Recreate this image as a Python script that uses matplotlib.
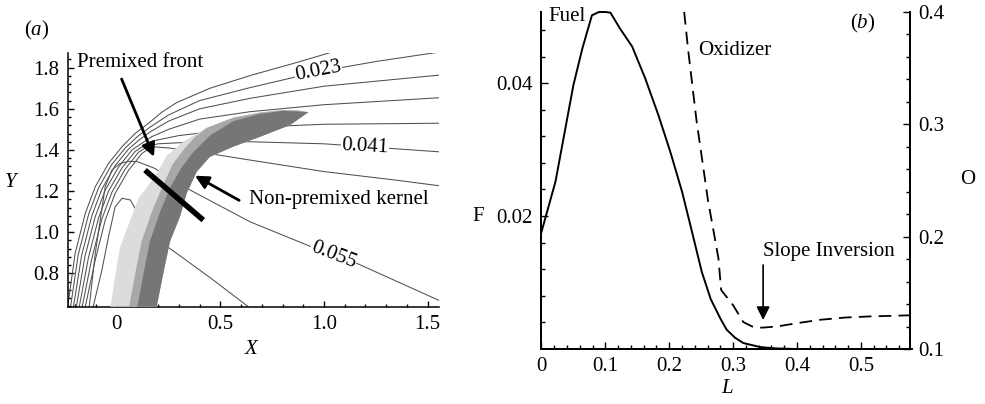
import numpy as np
import matplotlib
matplotlib.use("Agg")
import matplotlib.pyplot as plt
from matplotlib.ticker import MultipleLocator, FixedLocator

plt.rcParams['font.family'] = ['Liberation Serif', 'DejaVu Serif']
plt.rcParams['mathtext.fontset'] = 'custom'
plt.rcParams['mathtext.rm'] = 'Liberation Serif'
plt.rcParams['mathtext.it'] = 'Liberation Serif:italic'
FS = 15

# ---- panel (a): fuel iso-lines (X, Y) ----
iso1_x = [-0.236, -0.2, -0.151, -0.103, -0.039, 0.026, 0.09, 0.154, 0.22, 0.289, 0.45, 0.651, 0.85, 1.029]
iso1_y = [0.638, 0.897, 1.092, 1.221, 1.335, 1.416, 1.481, 1.53, 1.585, 1.63, 1.70, 1.764, 1.82, 1.873]
iso2_x = [-0.222, -0.185, -0.135, -0.087, -0.023, 0.042, 0.10, 0.16, 0.25, 0.40, 0.643, 0.973, 1.25, 1.536]
iso2_y = [0.638, 0.892, 1.087, 1.216, 1.33, 1.41, 1.465, 1.51, 1.57, 1.64, 1.703, 1.781, 1.83, 1.873]
iso3_x = [-0.208, -0.169, -0.119, -0.071, -0.007, 0.058, 0.11, 0.165, 0.25, 0.40, 0.643, 1.0, 1.556]
iso3_y = [0.638, 0.886, 1.081, 1.21, 1.324, 1.405, 1.45, 1.49, 1.54, 1.60, 1.651, 1.71, 1.764]
iso4_x = [-0.194, -0.153, -0.103, -0.055, 0.01, 0.074, 0.125, 0.17, 0.25, 0.40, 0.643, 1.0, 1.556]
iso4_y = [0.638, 0.881, 1.076, 1.205, 1.318, 1.40, 1.435, 1.465, 1.50, 1.55, 1.586, 1.62, 1.654]
iso5_x = [-0.180, -0.136, -0.087, -0.039, 0.026, 0.09, 0.14, 0.18, 0.3, 0.643, 1.0, 1.556]
iso5_y = [0.638, 0.876, 1.07, 1.2, 1.313, 1.394, 1.425, 1.445, 1.47, 1.51, 1.525, 1.53]
iso6_x = [-0.166, -0.12, -0.071, -0.023, 0.042, 0.106, 0.155, 0.2, 0.4, 0.643, 1.0, 1.2, 1.556]
iso6_y = [0.638, 0.87, 1.065, 1.194, 1.308, 1.389, 1.42, 1.43, 1.44, 1.44, 1.43, 1.416, 1.391]
iso7_x = [-0.151, -0.103, -0.055, -0.007, 0.058, 0.122, 0.17, 0.25, 0.4, 0.643, 1.0, 1.35, 1.556]
iso7_y = [0.638, 0.865, 1.059, 1.189, 1.302, 1.383, 1.416, 1.41, 1.39, 1.351, 1.295, 1.253, 1.226]
iso8_x = [-0.132, -0.103, -0.079, -0.055, -0.023, 0.017, 0.06, 0.1, 0.14, 0.185, 0.26, 0.37, 0.643, 0.94, 1.158, 1.556]
iso8_y = [0.638, 0.897, 1.059, 1.221, 1.302, 1.335, 1.345, 1.343, 1.328, 1.31, 1.26, 1.197, 1.051, 0.929, 0.849, 0.668]
iso9_x = [-0.113, -0.071, -0.039, -0.007, 0.026, 0.066, 0.122, 0.193, 0.257, 0.45, 0.635]
iso9_y = [0.638, 0.816, 0.978, 1.124, 1.165, 1.157, 1.059, 0.978, 0.921, 0.78, 0.638]

iso_labels = ['0.023', '0.041', '0.055']
iso_label_x = [0.973, 1.198, 1.045]
iso_label_y = [1.781, 1.416, 0.889]
iso_label_rot = [11, -3, -21]

# reaction zone (shaded band)
band_outer_x = [-0.03, -0.005, 0.017, 0.066, 0.106, 0.154, 0.203, 0.241, 0.321, 0.434, 0.562, 0.691, 0.80, 0.87, 0.925]
band_outer_y = [0.638, 0.80, 0.929, 1.059, 1.165, 1.23, 1.302, 1.37, 1.44, 1.507, 1.557, 1.582, 1.594, 1.593, 1.584]
band_inner_x = [0.925, 0.836, 0.691, 0.562, 0.45, 0.386, 0.338, 0.305, 0.257, 0.225, 0.193]
band_inner_y = [1.584, 1.521, 1.464, 1.416, 1.367, 1.294, 1.19, 1.075, 0.954, 0.80, 0.638]
band_light_x = [0.06, 0.09, 0.12, 0.17, 0.22, 0.27, 0.33, 0.38, 0.434, 0.562, 0.691, 0.80, 0.87, 0.925]
band_light_y = [0.638, 0.80, 0.954, 1.10, 1.22, 1.33, 1.41, 1.465, 1.507, 1.557, 1.582, 1.594, 1.593, 1.584]
band_mid_x = [0.10, 0.13, 0.16, 0.21, 0.26, 0.31, 0.37, 0.45, 0.562, 0.691, 0.80, 0.925]
band_mid_y = [0.638, 0.80, 0.954, 1.10, 1.22, 1.31, 1.39, 1.47, 1.54, 1.575, 1.59, 1.584]

cut_x = [0.137, 0.418]
cut_y = [1.302, 1.059]

# ---- panel (b): profiles along L ----
fuel_L = [0, 0.022, 0.05, 0.064, 0.079, 0.09, 0.1, 0.108, 0.123, 0.142, 0.1625, 0.183, 0.2016,
          0.22, 0.2355, 0.251, 0.265, 0.28, 0.29, 0.303, 0.316, 0.342, 0.365, 0.4, 0.5, 0.58]
fuel_F = [0.0176, 0.0252, 0.0397, 0.0452, 0.0502, 0.0507, 0.0507, 0.0506, 0.0482, 0.0455, 0.0407,
          0.0352, 0.0297, 0.0237, 0.0177, 0.0116, 0.0075, 0.0046, 0.0029, 0.0017, 0.0009, 0.0003,
          0.0001, 0, 0, 0]
ox_L = [0.2234, 0.2297, 0.2426, 0.2606, 0.277, 0.2813, 0.30, 0.316, 0.33, 0.345, 0.368, 0.40, 0.436, 0.475, 0.514, 0.577]
ox_O = [0.40, 0.366, 0.304, 0.2327, 0.181, 0.1525, 0.139, 0.124, 0.12, 0.119, 0.120, 0.123, 0.126, 0.128, 0.129, 0.130]

fig = plt.figure(figsize=(9.85, 4.04), dpi=100)

# ================= panel (a) =================
ax1 = fig.add_axes([0.0687, 0.2408, 0.3773, 0.6288])
iso_lines = [(iso1_x, iso1_y), (iso2_x, iso2_y), (iso3_x, iso3_y), (iso4_x, iso4_y), (iso5_x, iso5_y),
             (iso6_x, iso6_y), (iso7_x, iso7_y), (iso8_x, iso8_y), (iso9_x, iso9_y)]
for xs, ys in iso_lines:
    ax1.plot(xs, ys, color='#505050', lw=0.75, zorder=2)

ax1.fill(band_outer_x + band_inner_x, band_outer_y + band_inner_y, color='#dcdcdc', lw=0, zorder=3)
ax1.fill(band_light_x + band_inner_x, band_light_y + band_inner_y, color='#a8a8a8', lw=0, zorder=3)
ax1.fill(band_mid_x + band_inner_x, band_mid_y + band_inner_y, color='#767676', lw=0, zorder=3)

for lab, x, y, r in zip(iso_labels, iso_label_x, iso_label_y, iso_label_rot):
    ax1.text(x, y, lab, fontsize=FS, rotation=r, ha='center', va='center', zorder=4,
             bbox=dict(facecolor='white', edgecolor='none', pad=0.5))

ax1.plot(cut_x, cut_y, color='black', lw=4, solid_capstyle='butt', zorder=5)

ax1.annotate('', xy=(0.18, 1.367), xytext=(0.024, 1.745), zorder=6,
             arrowprops=dict(arrowstyle='-|>', color='black', lw=2, mutation_scale=20, shrinkA=0, shrinkB=0))
ax1.annotate('', xy=(0.378, 1.275), xytext=(0.591, 1.155), zorder=6,
             arrowprops=dict(arrowstyle='-|>', color='black', lw=2, mutation_scale=20, shrinkA=0, shrinkB=0))
ax1.text(-0.192, 1.823, 'Premixed front', fontsize=FS, ha='left', va='center')
ax1.text(0.638, 1.157, 'Non-premixed kernel', fontsize=FS, ha='left', va='center')

ax1.set_xlim(-0.236, 1.556)
ax1.set_ylim(0.638, 1.873)
ax1.spines['top'].set_visible(False)
ax1.spines['right'].set_visible(False)
for s in ('left', 'bottom'):
    ax1.spines[s].set_linewidth(1.1)
ax1.set_xticks([0, 0.5, 1.0, 1.5])
ax1.set_xticklabels(['0', '0.5', '1.0', '1.5'])
ax1.xaxis.set_minor_locator(MultipleLocator(0.1))
ax1.set_yticks([0.8, 1.0, 1.2, 1.4, 1.6, 1.8])
ax1.set_yticklabels(['0.8', '1.0', '1.2', '1.4', '1.6', '1.8'])
ax1.yaxis.set_minor_locator(MultipleLocator(0.04))
ax1.tick_params(which='both', direction='in', labelsize=FS, width=1)
ax1.tick_params(which='major', length=4.5)
ax1.tick_params(which='minor', length=2.5)
ax1.tick_params(axis='x', pad=6)
ax1.tick_params(axis='y', pad=6)

fig.text(0.0376, 0.9257, r'($\mathit{a}$)', fontsize=FS, ha='center', va='center')
fig.text(0.2558, 0.1337, r'$\mathit{X}$', fontsize=FS, ha='center', va='center')
fig.text(0.0122, 0.5495, r'$\mathit{Y}$', fontsize=FS, ha='center', va='center')

# ================= panel (b) =================
ax2 = fig.add_axes([0.5497, 0.1361, 0.3742, 0.8342])
ax2.plot(fuel_L, fuel_F, color='black', lw=1.4, clip_on=False)
ax2.set_xlim(0, 0.577)
ax2.set_ylim(0, 0.0507)
ax3 = ax2.twinx()
ax3.plot(ox_L, ox_O, color='black', lw=1.3, dashes=(7, 4))
ax3.set_ylim(0.1, 0.4)

for a in (ax2, ax3):
    a.spines['top'].set_visible(False)
    for s in ('left', 'right', 'bottom'):
        a.spines[s].set_linewidth(1.4)

ax2.set_xticks([0, 0.1, 0.2, 0.3, 0.4, 0.5])
ax2.set_xticklabels(['0', '0.1', '0.2', '0.3', '0.4', '0.5'])
ax2.xaxis.set_minor_locator(MultipleLocator(0.02))
ax2.set_yticks([0.02, 0.04])
ax2.set_yticklabels(['0.02', '0.04'])
ax2.yaxis.set_minor_locator(FixedLocator([0.004, 0.008, 0.012, 0.016, 0.024, 0.028, 0.032,
                                          0.036, 0.044, 0.048]))
ax3.set_yticks([0.1, 0.2, 0.3, 0.4])
ax3.set_yticklabels(['0.1', '0.2', '0.3', '0.4'])
ax3.yaxis.set_minor_locator(MultipleLocator(0.02))
for a in (ax2, ax3):
    a.tick_params(which='both', direction='in', labelsize=FS, width=1, pad=6)
    a.tick_params(which='major', length=5)
    a.tick_params(which='minor', length=3)

ax2.text(0.018, 0.988, 'Fuel', fontsize=FS, transform=ax2.transAxes, ha='left', va='center')
ax2.text(0.4247, 0.887, 'Oxidizer', fontsize=FS, transform=ax2.transAxes, ha='left', va='center')
ax2.text(0.872, 0.967, r'($\mathit{b}$)', fontsize=FS, transform=ax2.transAxes, ha='center', va='center')
ax2.text(0.601, 0.288, 'Slope Inversion', fontsize=FS, transform=ax2.transAxes, ha='left', va='center')
ax3.annotate('', xy=(0.347, 0.1258), xytext=(0.347, 0.1748),
             arrowprops=dict(arrowstyle='-|>', color='black', lw=1.2, mutation_scale=20, shrinkA=0, shrinkB=0))

fig.text(0.4853, 0.463, 'F', fontsize=FS, ha='center', va='center')
fig.text(0.9827, 0.5545, 'O', fontsize=FS, ha='center', va='center')
fig.text(0.739, 0.0396, r'$\mathit{L}$', fontsize=FS, ha='center', va='center')

fig.savefig('out.png', dpi=100)
